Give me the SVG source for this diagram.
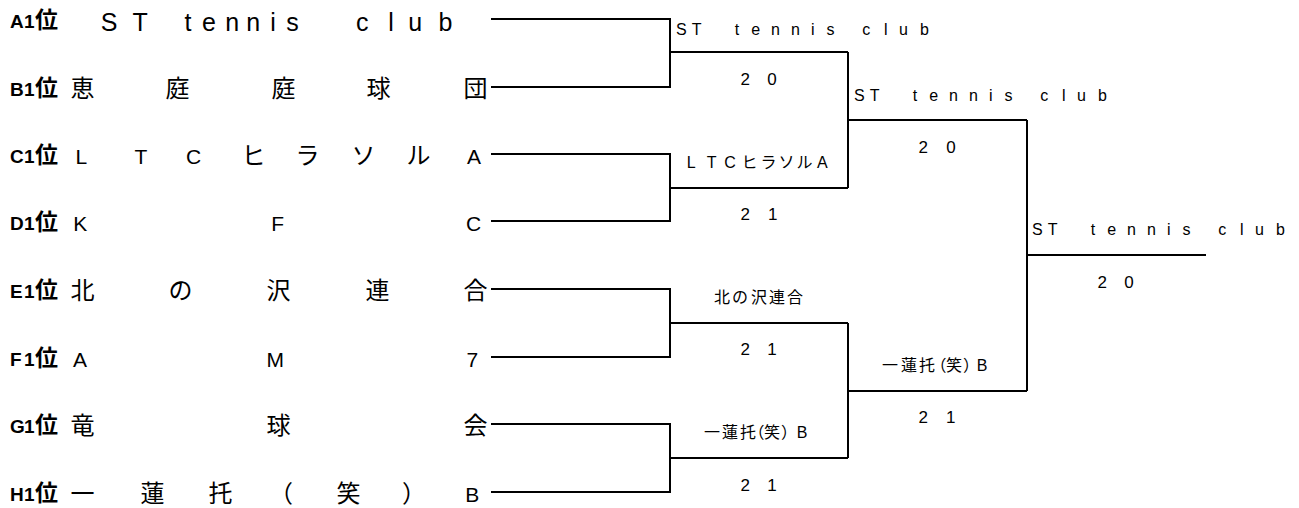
<svg xmlns="http://www.w3.org/2000/svg" width="1299" height="508" viewBox="0 0 1299 508">
<style>
.c{fill:none;stroke:#000;stroke-width:2}
text{fill:#000}
.lb{font-family:"Liberation Sans",Arial,sans-serif;font-weight:bold;font-size:19px}
.lbj{font-family:"Noto Sans CJK JP",sans-serif;font-weight:bold;font-size:23px}
.nj{font-family:"Noto Sans CJK JP",sans-serif;font-size:24px}
.nl{font-family:"Liberation Sans",Arial,sans-serif;font-size:21px}
.na{font-family:"Liberation Sans",Arial,sans-serif;font-size:25px}
.s{font-family:"Liberation Sans","Noto Sans CJK JP",sans-serif;font-size:16px}
.d{font-family:"Liberation Sans",Arial,sans-serif;font-size:17px}
</style>
<rect width="1299" height="508" fill="#fff"/>
<g id="connectors">
<path class="c" d="M491 19H670V87H491M670 52H848"/>
<path class="c" d="M491 154H670V221H491M670 188H848"/>
<path class="c" d="M491 289H670V357H491M670 323H848"/>
<path class="c" d="M491 424H670V492H491M670 458H848"/>
<path class="c" d="M848 52V188M848 120H1027"/>
<path class="c" d="M848 323V458M848 391H1027"/>
<path class="c" d="M1027 120V391M1027 255H1206"/>
</g>
<g id="entry-A">
<text class="lb" y="28"><tspan x="10">A</tspan><tspan x="24">1</tspan><tspan class="lbj" x="35">位</tspan></text>
<text class="na" y="31" x="100.8 132.5 160 184.6 202 225.3 246.3 270.3 286.2 320 356 388.3 408.3 438.4">ST tennis club</text>
</g>
<g id="entry-B">
<text class="lb" y="96"><tspan x="10">B</tspan><tspan x="24">1</tspan><tspan class="lbj" x="35">位</tspan></text>
<text class="nj" y="97" x="70.5 165.5 271.5 366.5 463.5">恵庭庭球団</text>
</g>
<g id="entry-C">
<text class="lb" y="163"><tspan x="10">C</tspan><tspan x="24">1</tspan><tspan class="lbj" x="35">位</tspan></text>
<text class="nj" y="164"><tspan class="nl" x="75.4">L</tspan><tspan class="nl" x="134.5">T</tspan><tspan class="nl" x="186">C</tspan><tspan x="241.5">ヒ</tspan><tspan x="295.5">ラ</tspan><tspan x="351.5">ソ</tspan><tspan x="406.5">ル</tspan><tspan class="nl" x="467">A</tspan></text>
</g>
<g id="entry-D">
<text class="lb" y="230"><tspan x="10">D</tspan><tspan x="24">1</tspan><tspan class="lbj" x="35">位</tspan></text>
<text class="nl" y="231" x="73.3 271.3 466">KFC</text>
</g>
<g id="entry-E">
<text class="lb" y="298"><tspan x="10">E</tspan><tspan x="24">1</tspan><tspan class="lbj" x="35">位</tspan></text>
<text class="nj" y="299" x="70.5 168.5 266.5 365.5 463.5">北の沢連合</text>
</g>
<g id="entry-F">
<text class="lb" y="366"><tspan x="10">F</tspan><tspan x="24">1</tspan><tspan class="lbj" x="35">位</tspan></text>
<text class="nl" y="367" x="73 266.4 466.5">AM7</text>
</g>
<g id="entry-G">
<text class="lb" y="433"><tspan x="10">G</tspan><tspan x="24">1</tspan><tspan class="lbj" x="35">位</tspan></text>
<text class="nj" y="434" x="70.5 266.5 463.5">竜球会</text>
</g>
<g id="entry-H">
<text class="lb" y="501"><tspan x="10">H</tspan><tspan x="24">1</tspan><tspan class="lbj" x="35">位</tspan></text>
<text class="nj" y="502"><tspan x="70.5">一</tspan><tspan x="140.5">蓮</tspan><tspan x="208.5">托</tspan><tspan x="269">（</tspan><tspan x="336.5">笑</tspan><tspan x="402">）</tspan><tspan class="nl" x="465.3">B</tspan></text>
</g>
<g id="match-r1-1">
<text class="s" y="35" x="676 691.7 712 734.7 751.3 770.9 790.9 810.9 826.5 845 862.3 883.9 898.9 920">ST tennis club</text>
<text class="d" y="85" x="740.5 754 767.2">2 0</text>
</g>
<g id="match-r1-2">
<text class="s" y="168" x="686.8 706.7 724.2 741.5 760.5 778.5 796.5 817">LTCヒラソルA</text>
<text class="d" y="220" x="740.5 754 768.1">2 1</text>
</g>
<g id="match-r1-3">
<text class="s" y="303" x="714 732 751 769 787">北の沢連合</text>
<text class="d" y="355" x="740.5 754 767.3">2 1</text>
</g>
<g id="match-r1-4">
<text class="s" y="438" x="704 722 740 748.5 764 781 796.7">一蓮托（笑）B</text>
<text class="d" y="491" x="740.5 754 767.3">2 1</text>
</g>
<g id="match-r2-1">
<text class="s" y="101" x="854 869.7 890 912.7 929.3 948.9 968.9 988.9 1004.5 1023 1040.3 1061.9 1076.9 1098">ST tennis club</text>
<text class="d" y="153" x="918.5 932 946.2">2 0</text>
</g>
<g id="match-r2-2">
<text class="s" y="371" x="882 901 919 930.5 946 963 976.7">一蓮托（笑）B</text>
<text class="d" y="423" x="918.5 932 946.1">2 1</text>
</g>
<g id="match-final">
<text class="s" y="235" x="1032 1047.7 1068 1090.7 1107.3 1126.9 1146.9 1166.9 1182.5 1201 1218.3 1239.9 1254.9 1276">ST tennis club</text>
<text class="d" y="288" x="1097.5 1111 1124.2">2 0</text>
</g>
</svg>
